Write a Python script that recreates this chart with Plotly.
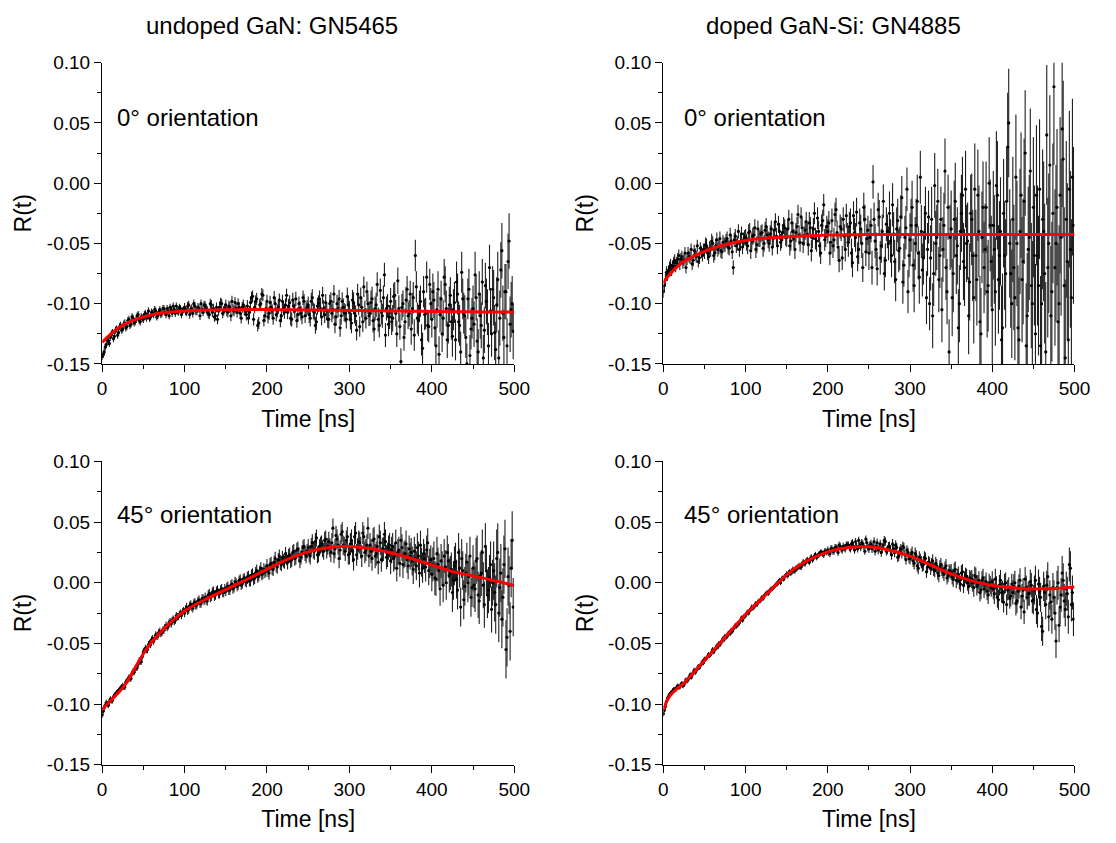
import numpy as np
import plotly.graph_objects as go

# ---------------- data (R values in units of 1e-3) ----------------
# *_A: samples at t = 0, 2.5, 5, ... ns ; *_B: samples at t = 1.25, 3.75, ... ns
T_STEP_NS = 2.5
T_OFFSET_B_NS = 1.25
SEG_NS = 25.0  # error-bar half-lengths are listed per 25 ns segment

R_UNDOPED_0_A = [
    -144, -140, -134, -131, -128, -124, -127, -121, -124, -118,
    -121, -116, -119, -113, -117, -112, -115, -110, -114, -111,
    -113, -108, -110, -112, -107, -109, -106, -110, -105, -108,
    -104, -109, -106, -103, -108, -105, -102, -107, -104, -106,
    -103, -107, -101, -105, -108, -102, -106, -104, -100, -107,
    -102, -106, -109, -101, -104, -110, -113, -103, -100, -106,
    -101, -107, -103, -98, -106, -104, -100, -108, -103, -105,
    -109, -112, -99, -94, -103, -96, -116, -100, -93, -110,
    -98, -108, -103, -112, -100, -106, -97, -110, -104, -101,
    -107, -99, -113, -102, -96, -109, -104, -111, -98, -105,
    -101, -112, -95, -107, -115, -100, -104, -93, -109, -106,
    -113, -98, -105, -117, -100, -96, -110, -103, -108, -94,
    -106, -116, -99, -110, -92, -119, -103, -86, -112, -100,
    -108, -96, -121, -101, -113, -89, -110, -76, -104, -117,
    -98, -112, -93, -125, -104, -148, -100, -115, -88, -108,
    -121, -95, -60, -112, -102, -130, -90, -108, -118, -84,
    -113, -97, -135, -88, -109, -125, -78, -104, -118, -93,
    -127, -99, -82, -115, -140, -96, -110, -150, -88, -121,
    -104, -76, -131, -92, -118, -145, -85, -107, -70, -125,
    -95, -138, -80, -112, -56, -128, -90, -65, -117, -100,
]
R_UNDOPED_0_B = [
    -142, -136, -130, -133, -125, -129, -122, -126, -119, -122,
    -117, -120, -114, -118, -111, -116, -113, -109, -115, -112,
    -109, -112, -106, -111, -108, -105, -111, -107, -109, -104,
    -107, -104, -110, -105, -102, -108, -106, -103, -109, -105,
    -106, -102, -109, -104, -100, -106, -103, -110, -105, -101,
    -104, -108, -100, -107, -111, -103, -106, -99, -108, -104,
    -106, -102, -110, -105, -99, -107, -103, -112, -101, -106,
    -102, -107, -95, -113, -98, -118, -101, -92, -114, -104,
    -111, -99, -106, -95, -109, -103, -114, -98, -107, -93,
    -102, -112, -97, -106, -114, -100, -108, -95, -110, -103,
    -109, -98, -106, -118, -102, -96, -111, -104, -99, -113,
    -100, -108, -92, -111, -104, -120, -98, -107, -113, -101,
    -113, -97, -108, -122, -101, -95, -115, -106, -90, -110,
    -99, -114, -104, -84, -118, -107, -95, -126, -102, -111,
    -115, -94, -108, -81, -119, -103, -128, -97, -110, -92,
    -104, -126, -86, -114, -98, -137, -109, -78, -119, -100,
    -90, -120, -105, -142, -96, -112, -84, -130, -101, -115,
    -105, -130, -92, -118, -74, -108, -128, -96, -143, -112,
    -117, -95, -140, -110, -82, -122, -98, -135, -106, -88,
    -124, -101, -145, -72, -108, -90, -135, -48, -105, -123,
]
ERR_UNDOPED_0 = [3, 3, 3, 3, 3.5, 4, 4.5, 5, 5.5, 6, 7, 7.5, 8.5, 10, 11, 13, 15, 17, 19, 23]

R_DOPED_0_A = [
    -90, -80, -76, -70, -72, -66, -69, -63, -67, -61,
    -64, -70, -58, -62, -67, -56, -61, -65, -54, -60,
    -57, -52, -61, -55, -50, -58, -47, -53, -56, -49,
    -51, -46, -54, -48, -70, -44, -50, -55, -42, -47,
    -45, -52, -40, -48, -43, -55, -38, -46, -41, -50,
    -36, -47, -42, -53, -39, -44, -34, -49, -41, -37,
    -45, -30, -48, -40, -55, -36, -43, -28, -50, -39,
    -42, -33, -56, -38, -46, -29, -52, -35, -18, -44,
    -40, -58, -31, -47, -22, -53, -36, -62, -44, -27,
    -49, -33, -66, -41, -24, -55, -38, -70, -30, -46,
    -58, -35, 1, -48, -71, -28, -52, -15, -64, -40,
    -25, -60, -42, -80, -31, -54, -12, -68, -37, -90,
    -47, -20, -85, -35, -58, 5, -72, -41, -95, -28,
    -62, -110, -2, -45, -80, -30, -55, 10, -90, -140,
    -38, -75, -15, -52, -100, -25, -65, -5, -48, -82,
    -30, -95, -60, -10, -115, -45, -70, -20, -85, -35,
    -105, -55, -2, -80, -40, -120, -60, -15, 50, -75,
    -30, -95, -50, -130, -10, -65, 25, -110, -45, -85,
    -20, -125, -60, -5, -100, -40, -140, -70, 15, -90,
    80, -50, -115, -10, 45, -85, -30, -130, -55, 5,
]
R_DOPED_0_B = [
    -85, -74, -73, -68, -69, -64, -66, -60, -63, -66,
    -58, -63, -61, -55, -64, -59, -52, -62, -57, -55,
    -51, -58, -54, -48, -60, -52, -55, -46, -57, -51,
    -48, -53, -43, -57, -47, -52, -40, -49, -53, -45,
    -49, -41, -56, -44, -37, -51, -46, -42, -54, -39,
    -43, -50, -38, -46, -32, -52, -40, -47, -35, -45,
    -38, -52, -33, -46, -41, -26, -49, -37, -44, -32,
    -51, -37, -45, -25, -48, -40, -58, -31, -47, -36,
    -33, -49, -52, -26, -41, -64, -38, -30, -55, -43,
    -36, -58, -27, -45, -61, -33, -50, -20, -57, -39,
    -45, -70, -30, -55, -22, -62, -40, -75, -34, -50,
    -48, -18, -65, -38, -56, -28, -82, -45, -5, -60,
    -35, -68, -50, -15, -78, -40, -62, -25, -55, -100,
    -30, -75, -50, -15, -60, -105, -35, -70, -20, -45,
    -95, -30, -60, -120, -40, -10, -70, -50, -110, -25,
    -60, -5, -80, -40, -125, -20, -55, -90, 0, -65,
    -35, -90, -10, -60, -130, -25, -75, 30, -50, -100,
    -70, 5, -120, -40, -80, -15, -135, -55, 10, -100,
    -60, -10, -85, -135, -30, -75, 40, -50, -110, -25,
    -70, -20, -100, -45, 20, -145, -65, -5, -95, -35,
]
ERR_DOPED_0 = [5, 5, 6, 6, 7, 7, 8, 9, 10, 12, 14, 18, 22, 27, 32, 38, 45, 52, 58, 65]

R_UNDOPED_45_A = [
    -109, -103, -99, -101, -96, -97, -93, -91, -89, -87,
    -85, -86, -81, -78, -79, -73, -71, -70, -64, -65,
    -57, -54, -55, -50, -47, -48, -43, -44, -40, -41,
    -39, -35, -36, -32, -31, -32, -27, -28, -25, -24,
    -25, -20, -22, -18, -21, -16, -18, -14, -17, -13,
    -12, -15, -9, -11, -7, -10, -6, -9, -5, -8,
    -7, -3, -6, -1, -4, 0, -2, 3, -1, 4,
    1, 5, 2, 7, 4, 10, 6, 12, 8, 9,
    14, 8, 16, 11, 20, 13, 22, 15, 18, 24,
    17, 23, 19, 26, 21, 28, 18, 25, 30, 22,
    29, 22, 33, 26, 37, 24, 31, 28, 35, 27,
    34, 25, 45, 28, 36, 20, 40, 31, 26, 38,
    24, 35, 19, 41, 28, 33, 22, 38, 27, 45,
    31, 20, 36, 24, 17, 33, 27, 40, 21, 29,
    18, 30, 22, 12, 27, 35, 15, 24, 19, 28,
    25, 11, 20, 29, 8, 17, 24, 13, 33, 16,
    7, 20, 3, 15, -5, 12, 22, 0, 18, 8,
    -8, 14, 3, 25, -20, 10, -3, 17, 5, -12,
    12, -5, 20, -15, 8, -2, 30, -10, 4, -22,
    10, -18, 25, -4, -30, 15, -55, 5, -40, 35,
]
R_UNDOPED_45_B = [
    -106, -101, -100, -98, -97, -94, -92, -90, -88, -86,
    -86, -82, -80, -79, -75, -74, -70, -67, -65, -61,
    -56, -55, -51, -51, -46, -46, -44, -41, -42, -39,
    -37, -37, -33, -34, -30, -31, -28, -26, -27, -23,
    -22, -23, -19, -20, -17, -19, -15, -17, -13, -15,
    -14, -10, -12, -8, -11, -7, -9, -6, -8, -5,
    -4, -6, -2, -5, 1, -3, 2, -2, 3, 1,
    4, 2, 6, 3, 8, 5, 9, 7, 11, 10,
    10, 15, 12, 17, 14, 19, 16, 21, 17, 20,
    22, 18, 25, 20, 27, 23, 21, 29, 24, 26,
    24, 30, 27, 34, 23, 29, 32, 26, 36, 30,
    29, 33, 24, 39, 31, 27, 42, 30, 35, 23,
    32, 26, 38, 23, 34, 29, 41, 25, 31, 22,
    26, 35, 22, 30, 38, 19, 28, 34, 23, 31,
    27, 20, 33, 25, 16, 29, 23, 32, 14, 22,
    18, 26, 14, 22, 31, 12, 20, 27, 10, 19,
    15, 4, 24, 10, 18, -2, 13, 25, 6, 11,
    2, 17, -6, 12, 20, -14, 8, 0, 22, -4,
    -2, 18, -10, 6, 25, -18, 10, -6, 15, 0,
    -8, 20, -25, 8, -12, 28, -45, -2, 12, -20,
]
ERR_UNDOPED_45 = [2.5, 2.5, 3, 3, 3.5, 4, 4, 5, 5.5, 6, 7, 8, 9, 10, 11, 12, 14, 16, 19, 24]

R_DOPED_45_A = [
    -108, -102, -95, -92, -91, -88, -88, -85, -86, -83,
    -84, -80, -80, -76, -76, -72, -72, -69, -68, -65,
    -63, -62, -59, -59, -55, -55, -52, -50, -49, -46,
    -44, -44, -41, -39, -38, -35, -34, -33, -29, -28,
    -27, -24, -23, -20, -20, -17, -16, -15, -12, -11,
    -9, -9, -6, -5, -3, -1, 1, 0, 4, 5,
    7, 8, 8, 11, 10, 12, 14, 13, 17, 16,
    19, 17, 21, 20, 23, 22, 24, 25, 23, 26,
    27, 24, 28, 26, 29, 25, 30, 27, 29, 31,
    31, 28, 33, 27, 30, 35, 29, 32, 26, 33,
    28, 32, 30, 26, 33, 29, 25, 31, 34, 27,
    30, 23, 28, 31, 21, 26, 24, 29, 19, 25,
    20, 25, 16, 22, 12, 19, 14, 21, 9, 17,
    12, 18, 10, 14, 6, 15, 9, 12, 4, 10,
    9, 3, 11, 5, 1, 8, -2, 6, 0, 4,
    3, -4, 5, -1, -8, 2, -5, 1, -10, -2,
    1, -9, -3, -14, 2, -7, -1, -18, -4, -11,
    -8, 0, -15, -3, -20, -6, 3, -12, -9, -2,
    -14, 2, -25, -7, -36, -3, -18, 5, -10, -30,
    -12, -48, 0, -20, 8, -15, -5, -28, 12, -8,
]
R_DOPED_45_B = [
    -105, -98, -94, -91, -89, -88, -86, -86, -84, -85,
    -82, -81, -78, -78, -74, -74, -71, -70, -67, -66,
    -63, -61, -60, -57, -57, -54, -53, -51, -48, -47,
    -45, -42, -42, -40, -37, -36, -34, -31, -31, -28,
    -25, -25, -22, -21, -19, -18, -15, -14, -13, -10,
    -8, -7, -5, -4, -2, -1, 2, 3, 3, 6,
    6, 9, 9, 10, 12, 13, 13, 15, 16, 18,
    18, 20, 19, 22, 21, 23, 25, 24, 26, 25,
    25, 28, 26, 29, 28, 31, 28, 30, 28, 31,
    29, 32, 30, 34, 28, 31, 33, 30, 36, 29,
    31, 28, 34, 30, 27, 32, 29, 35, 26, 30,
    27, 32, 25, 29, 22, 28, 30, 23, 27, 20,
    23, 18, 24, 14, 21, 17, 15, 20, 13, 16,
    15, 11, 16, 8, 13, 11, 7, 14, 6, 9,
    5, 10, 2, 7, -1, 9, 3, 5, -3, 3,
    0, 6, -3, 2, -6, 4, -2, -7, 0, -4,
    -5, 3, -12, -2, -8, -16, 0, -6, -13, -1,
    -3, -17, -7, 2, -11, -24, -4, -9, 1, -15,
    -6, -22, -1, -12, -40, -8, -2, -28, -16, -4,
    -25, -4, -35, -10, 2, -22, -9, 15, -18, -30,
]
ERR_DOPED_45 = [2, 2, 2, 2, 2, 2, 2.5, 2.5, 3, 3, 3.5, 4, 5, 5.5, 6.5, 7.5, 8.5, 10, 12, 14]

# fitted curves (units of 1e-3) read at these times
FIT_T = [0, 5, 10, 15, 20, 25, 30, 40, 50, 60, 75, 90, 100, 125, 150, 175, 200,
         225, 250, 275, 300, 325, 350, 375, 400, 425, 450, 475, 500]
FIT_UNDOPED_0 = [-132, -128.5, -125.5, -122.5, -120, -118, -116.2, -113.2, -111, -109.3,
                 -107.6, -106.5, -106, -105.3, -105, -104.9, -104.9, -105, -105.2, -105.4,
                 -105.6, -105.8, -106, -106.2, -106.4, -106.6, -106.7, -106.9, -107]
FIT_DOPED_0 = [-83, -78, -74, -70.5, -67.5, -65, -63, -59.5, -56.5, -54, -51, -48.8,
               -47.6, -45.6, -44.4, -43.6, -43.1, -42.8, -42.6, -42.5, -42.5, -42.5,
               -42.5, -42.5, -42.5, -42.5, -42.5, -42.5, -42.5]
FIT_UNDOPED_45 = [-104.6, -101, -97.5, -94, -90.5, -86.4, -82, -70, -58.5, -49, -38,
                  -28.5, -23.3, -13.8, -5.7, 2.5, 11.1, 19.3, 25.5, 29, 30, 28.2, 24.7,
                  20, 14.7, 9.2, 5.7, 1.9, -2.2]
FIT_DOPED_45 = [-104.6, -96.5, -91.5, -88.2, -85.5, -83, -79.2, -71.6, -64, -56.4, -45, -33.5,
                -26, -9.7, 6.5, 18.2, 25.5, 29, 29.6, 26.8, 22, 14.7, 7.3, 1.6, -2.2,
                -4, -5.1, -4.8, -3.5]

COLUMN_TITLES = ["undoped GaN: GN5465", "doped GaN-Si: GN4885"]
PANEL_LABELS = ["0° orientation", "0° orientation", "45° orientation", "45° orientation"]
X_TICK_VALS = [0, 100, 200, 300, 400, 500]
X_TICK_TEXT = ["0", "100", "200", "300", "400", "500"]
X_MINOR_VALS = [50, 150, 250, 350, 450]
Y_TICK_VALS = [-0.15, -0.10, -0.05, 0.00, 0.05, 0.10]
Y_TICK_TEXT = ["-0.15", "-0.10", "-0.05", "0.00", "0.05", "0.10"]
Y_MINOR_VALS = [-0.125, -0.075, -0.025, 0.025, 0.075]
X_TITLE = "Time [ns]"
Y_TITLE = "R(t)"

# ---------------- layout geometry ----------------
W, H = 1116, 843
FONT = "Liberation Sans, Arial, sans-serif"
X_DOMAINS = [[99 / W, 519 / W], [671 / W, 1090 / W]]
Y_DOMAINS = [[1 - 363 / H, 1 - 54 / H], [1 - 774 / H, 1 - 463 / H]]

panels = [
    (R_UNDOPED_0_A, R_UNDOPED_0_B, ERR_UNDOPED_0, FIT_UNDOPED_0, 0, 0),
    (R_DOPED_0_A, R_DOPED_0_B, ERR_DOPED_0, FIT_DOPED_0, 0, 1),
    (R_UNDOPED_45_A, R_UNDOPED_45_B, ERR_UNDOPED_45, FIT_UNDOPED_45, 1, 0),
    (R_DOPED_45_A, R_DOPED_45_B, ERR_DOPED_45, FIT_DOPED_45, 1, 1),
]


def axref(prefix, n):
    return prefix if n == 1 else f"{prefix}{n}"


fig = go.Figure()
layout = dict(
    width=W, height=H,
    margin=dict(l=0, r=0, t=0, b=0),
    paper_bgcolor="white", plot_bgcolor="white",
    showlegend=False,
    font=dict(family=FONT, color="black"),
)

common_axis = dict(
    showgrid=False, zeroline=False, showline=True, linecolor="black", linewidth=1.3,
    tickcolor="black", tickwidth=1.2,
)

annotations = []
for k, (ra, rb, err_seg, fit_vals, row, col) in enumerate(panels, start=1):
    ta = np.arange(len(ra)) * T_STEP_NS
    tb = np.arange(len(rb)) * T_STEP_NS + T_OFFSET_B_NS
    t = np.concatenate([ta, tb])
    r = np.concatenate([np.array(ra, dtype=float), np.array(rb, dtype=float)]) / 1000.0
    order = np.argsort(t, kind="stable")
    t, r = t[order], r[order]
    seg_idx = np.minimum((t // SEG_NS).astype(int), len(err_seg) - 1)
    err = np.array(err_seg, dtype=float)[seg_idx] / 1000.0

    xa, ya = axref("x", k), axref("y", k)
    fig.add_trace(go.Scatter(
        x=t, y=r, mode="markers", xaxis=xa, yaxis=ya,
        marker=dict(size=3.2, color="black"),
        error_y=dict(type="data", array=err, visible=True, color="#1e1e1e",
                     thickness=1.1, width=0),
        hoverinfo="skip",
    ))
    fig.add_trace(go.Scatter(
        x=FIT_T, y=np.array(fit_vals) / 1000.0, mode="lines", xaxis=xa, yaxis=ya,
        line=dict(color="#ff0000", width=3, shape="spline", smoothing=0.6),
        hoverinfo="skip",
    ))

    xkey = "xaxis" if k == 1 else f"xaxis{k}"
    ykey = "yaxis" if k == 1 else f"yaxis{k}"
    layout[xkey] = dict(
        common_axis, domain=X_DOMAINS[col], anchor=ya, range=[0, 500],
        tickmode="array", tickvals=X_TICK_VALS, ticktext=X_TICK_TEXT,
        ticks="outside", ticklen=7, tickfont=dict(size=19, family=FONT),
        minor=dict(tickmode="array", tickvals=X_MINOR_VALS,
                   ticks="outside", ticklen=4, tickcolor="black", tickwidth=1.2),
        title=dict(text=X_TITLE, font=dict(size=23, family=FONT), standoff=12),
    )
    layout[ykey] = dict(
        common_axis, domain=Y_DOMAINS[row], anchor=xa, range=[-0.15, 0.10],
        tickmode="array", tickvals=Y_TICK_VALS, ticktext=Y_TICK_TEXT,
        ticks="outside", ticklen=7, tickfont=dict(size=19, family=FONT),
        minor=dict(tickmode="array", tickvals=Y_MINOR_VALS,
                   ticks="outside", ticklen=4, tickcolor="black", tickwidth=1.2),
        title=dict(text=Y_TITLE, font=dict(size=23, family=FONT), standoff=8),
    )
    # mirrored frame with inward ticks
    layout[f"xaxis{k + 4}"] = dict(
        common_axis, overlaying=xa, side="top", anchor=ya, range=[0, 500],
        tickmode="array", tickvals=X_TICK_VALS, showticklabels=False,
        ticks="inside", ticklen=6,
        minor=dict(tickmode="array", tickvals=X_MINOR_VALS,
                   ticks="inside", ticklen=3, tickcolor="black", tickwidth=1.2),
    )
    layout[f"yaxis{k + 4}"] = dict(
        common_axis, overlaying=ya, side="right", anchor=xa, range=[-0.15, 0.10],
        tickmode="array", tickvals=Y_TICK_VALS, showticklabels=False,
        ticks="inside", ticklen=6,
        minor=dict(tickmode="array", tickvals=Y_MINOR_VALS,
                   ticks="inside", ticklen=3, tickcolor="black", tickwidth=1.2),
    )

    label_x = [112 / W, 690 / W][col]
    label_y = [1 - 110 / H, 1 - 517 / H][row]
    annotations.append(dict(
        text=PANEL_LABELS[k - 1], xref="paper", yref="paper", x=label_x, y=label_y,
        xanchor="left", yanchor="middle", showarrow=False,
        font=dict(size=24, family=FONT, color="black"),
    ))

for col, title in enumerate(COLUMN_TITLES):
    annotations.append(dict(
        text=title, xref="paper", yref="paper", x=[272 / W, 844 / W][col], y=1 - 16 / H,
        xanchor="center", yanchor="middle", showarrow=False,
        font=dict(size=24, family=FONT, color="black"),
    ))

layout["annotations"] = annotations
fig.update_layout(**layout)
fig.write_html("out.html")
